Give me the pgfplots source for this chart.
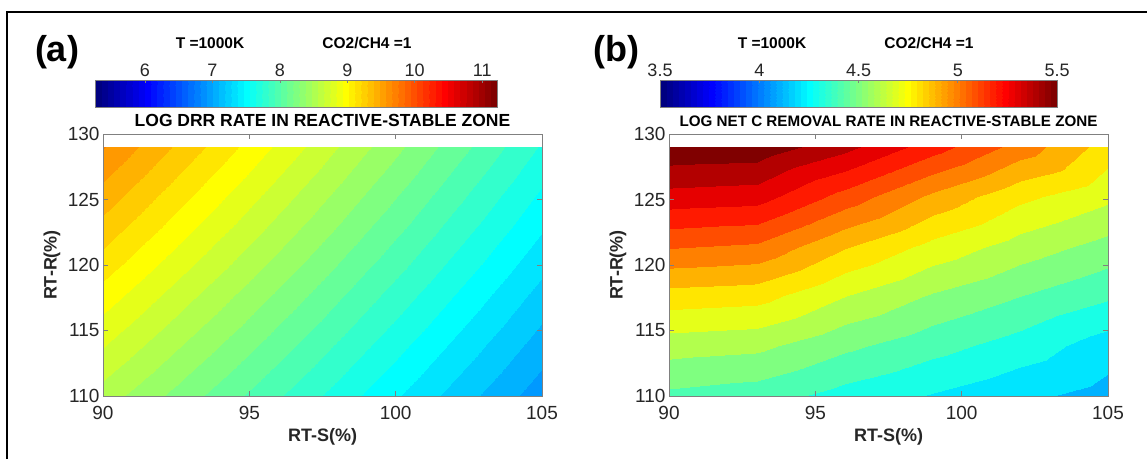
\documentclass[border=0pt]{standalone}
\usepackage{pgfplots}
\pgfplotsset{compat=1.18}
\usepackage{fontspec}
\setmainfont{Liberation Sans}

\newcommand\fs[1]{\fontsize{#1}{#1}\selectfont}

% jet colour scale: 64 steps for the colour bars, coarser bands for the filled contours
\pgfplotsset{colormap/jet}
\pgfplotsset{
  colormap={jetsteps}{samples of colormap=(65 of jet)},
  colormap={bandsA}{samples of colormap=(41 of jet)},
  colormap={bandsB}{samples of colormap=(21 of jet)},
}

\pgfplotsset{
  panel/.style={
    scale only axis, width=439pt, height=262pt,
    xmin=90, xmax=105, ymin=110, ymax=130,
    xtick={90,95,100,105}, ytick={110,115,...,130},
    tick align=inside, major tick length=5pt,
    axis on top,
    axis line style={black!50, line width=0.6pt},
    every tick/.style={black!50, line width=0.6pt},
    tick label style={font=\fs{19}, text=black!85},
    /pgf/number format/assume math mode=true,
    xticklabel style={yshift=-7pt},
    xlabel={\textbf{RT-S(\%)}}, ylabel={\textbf{RT-R(\%)}},
    label style={font=\fs{18}, text=black!85},
    xlabel style={at={(axis description cs:0.5,-0.156)}, anchor=center},
    ylabel style={at={(axis description cs:-0.116,0.5)}, anchor=center},
    every axis title/.style={at={(axis description cs:0.5,1.027)}, anchor=base},
    colormap access=piecewise constant,
  },
  cbar/.style={
    scale only axis, height=27pt, ymin=0, ymax=1, ytick=\empty,
    xtick pos=right, xticklabel pos=right,
    tick align=inside, major tick length=3pt,
    axis on top,
    axis line style={black!50, line width=0.6pt},
    every tick/.style={black!50, line width=0.6pt},
    tick label style={font=\fs{18}, text=black!85},
    /pgf/number format/assume math mode=true,
    colormap name=jetsteps, colormap access=piecewise constant,
  },
}

\begin{document}
\begin{tikzpicture}
\useasboundingbox (0,0) rectangle (1147pt,459pt);

% ---------------- (a) log DRR rate ----------------
\begin{axis}[panel, at={(103pt,63pt)}, anchor=south west,
  colormap name=bandsA, point meta min=5.25, point meta max=11.25,
  title={LOG DRR RATE IN REACTIVE-STABLE ZONE},
  title style={font=\bfseries\fs{17.5}}]
\addplot[surf, shader=interp, mesh/cols=6, point meta=explicit]
  table[meta=z] {
x   y     z
90  110   8.550
93  110   8.224
96  110   7.898
99  110   7.572
102 110   7.246
105 110   6.920
90  113.8 8.770
93  113.8 8.432
96  113.8 8.094
99  113.8 7.756
102 113.8 7.418
105 113.8 7.080
90  117.6 8.990
93  117.6 8.640
96  117.6 8.290
99  117.6 7.940
102 117.6 7.590
105 117.6 7.240
90  121.4 9.210
93  121.4 8.848
96  121.4 8.486
99  121.4 8.124
102 121.4 7.762
105 121.4 7.400
90  125.2 9.430
93  125.2 9.056
96  125.2 8.682
99  125.2 8.308
102 125.2 7.934
105 125.2 7.560
90  129   9.650
93  129   9.264
96  129   8.878
99  129   8.492
102 129   8.106
105 129   7.720
};
\end{axis}

% ---------------- (b) log net C removal rate ----------------
\begin{axis}[panel, at={(669pt,63pt)}, anchor=south west,
  colormap name=bandsB, point meta min=3.5, point meta max=5.5,
  title={LOG NET C REMOVAL RATE IN REACTIVE-STABLE ZONE},
  title style={font=\bfseries\fs{15.2}}]
\addplot[surf, shader=interp, mesh/cols=6, point meta=explicit]
  table[meta=z] {
x   y     z
90  110   4.430
93  110   4.402
96  110   4.320
99  110   4.255
102 110   4.190
105 110   4.130
90  113.8 4.590
93  113.8 4.571
96  113.8 4.473
99  113.8 4.393
102 113.8 4.315
105 113.8 4.213
90  117.6 4.794
93  117.6 4.776
96  117.6 4.645
99  117.6 4.538
102 117.6 4.454
105 117.6 4.372
90  121.4 5.031
93  121.4 5.007
96  121.4 4.841
99  121.4 4.708
102 121.4 4.600
105 121.4 4.512
90  125.2 5.273
93  125.2 5.256
96  125.2 5.081
99  125.2 4.907
102 125.2 4.762
105 125.2 4.665
90  129   5.480
93  129   5.470
96  129   5.340
99  129   5.165
102 129   4.986
105 129   4.790
};
\end{axis}

% ---------------- colour bars ----------------
\begin{axis}[cbar, at={(95pt,352pt)}, anchor=south west, width=402pt,
  xmin=5.26, xmax=11.22, xtick={6,7,...,11}]
\addplot[surf, shader=interp, mesh/cols=2, point meta=x] table {
x     y
5.26  0
11.22 0
5.26  1
11.22 1
};
\end{axis}

\begin{axis}[cbar, at={(660pt,352pt)}, anchor=south west, width=397pt,
  xmin=3.5, xmax=5.5, xtick={3.5,4,4.5,5,5.5}]
\addplot[surf, shader=interp, mesh/cols=2, point meta=x] table {
x    y
3.5  0
5.5  0
3.5  1
5.5  1
};
\end{axis}

% ---------------- panel letters and run conditions ----------------
\node[anchor=base, font=\bfseries\fs{36}] at (57pt,398pt) {(a)};
\node[anchor=base, font=\bfseries\fs{36}] at (616pt,397pt) {(b)};
\node[anchor=base, font=\bfseries\fs{15.5}] at (210pt,410pt) {T =1000K};
\node[anchor=base, font=\bfseries\fs{15.5}] at (367pt,410pt) {CO2/CH4 =1};
\node[anchor=base, font=\bfseries\fs{15.5}] at (772pt,410pt) {T =1000K};
\node[anchor=base, font=\bfseries\fs{15.5}] at (929pt,410pt) {CO2/CH4 =1};

% frame
\draw[line width=2pt] (7pt,0pt) -- (7pt,447pt) -- (1147pt,447pt);
\end{tikzpicture}
\end{document}
